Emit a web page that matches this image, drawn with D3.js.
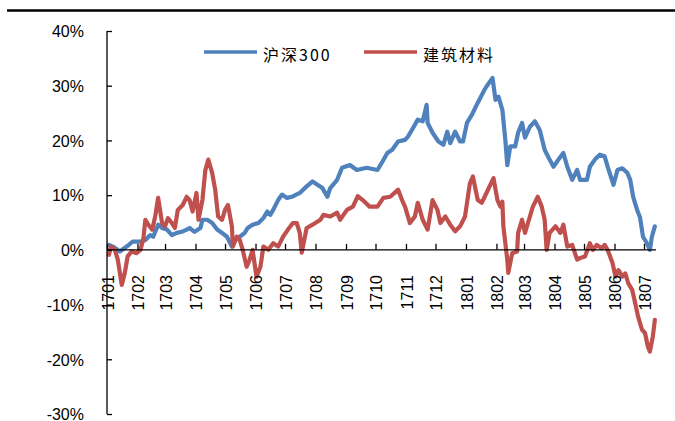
<!DOCTYPE html>
<html><head><meta charset="utf-8">
<script src="https://cdn.jsdelivr.net/npm/d3@7"></script>
<style>
html,body{margin:0;padding:0;background:#fff;}
svg{display:block;}
</style>
</head><body>
<svg id="chart" width="675" height="421"></svg>
<script>
// Series names
const seriesNames = ["沪深300", "建筑材料"];
// Calendar days since 2017-01-01 and cumulative return (%)
const hs300Days = [2,6,13,20,26,34,39,44,47,52,56,61,66,71,76,81,84,89,95,97,102,107,112,117,122,127,130,135,140,143,148,154,159,163,166,169,174,178,183,188,196,203,209,214,219,224,227,234,239,247,254,264,275,280,285,290,296,303,306,310,316,321,325,326,331,337,342,346,349,354,359,362,366,371,377,384,386,392,395,398,402,405,407,410,415,418,422,425,430,435,440,445,450,454,459,464,468,473,478,481,488,491,496,501,506,509,515,519,524,529,532,535,539,542,545,549,552,554,557];
const hs300Pct = [0.9,0.6,-0.3,0.6,1.5,1.5,1.8,2.7,2.4,4.6,4.0,3.7,2.7,3.1,3.3,3.7,4.0,3.3,4.0,5.5,5.5,4.9,3.7,3.1,2.4,0.6,1.8,2.4,3.1,4.0,4.6,4.9,5.8,7.0,6.4,7.3,9.1,10.1,9.5,9.7,10.4,11.6,12.5,11.9,11.3,9.7,11.3,12.8,15.0,15.5,14.6,15.0,14.6,16.1,17.7,18.3,19.8,20.1,20.7,21.9,23.8,23.5,26.5,23.2,21.4,19.8,19.2,21.6,19.5,21.6,19.8,19.8,23.2,24.7,26.9,29.3,29.9,31.4,27.4,28.0,25.6,20.1,15.5,18.9,18.9,21.4,23.2,20.5,22.5,23.5,21.9,18.3,16.5,15.2,16.5,17.7,15.2,12.8,14.6,12.8,12.8,15.2,16.5,17.4,17.1,15.2,11.9,14.6,14.9,14.1,12.8,9.7,7.3,5.9,2.4,1.2,0.0,2.4,4.3];
const jcclDays = [2,4,8,11,15,18,21,25,30,34,37,39,42,46,49,52,56,59,62,66,69,72,77,81,84,87,91,93,97,100,103,107,110,113,117,120,123,127,128,132,135,138,142,145,148,152,156,159,164,169,174,179,184,189,193,196,198,203,209,217,220,227,234,237,244,250,255,260,267,275,281,288,296,300,303,308,313,316,321,326,331,336,339,344,349,354,359,364,369,372,377,381,384,389,393,397,400,402,403,407,408,412,417,418,422,425,430,433,438,442,445,447,450,456,461,464,468,473,478,481,486,491,494,498,503,506,509,514,517,520,524,527,530,534,537,540,544,547,550,552,555,557];
const jcclPct = [-0.9,0.6,0.0,-1.8,-6.4,-4.3,-1.2,-0.3,-0.6,0.0,2.1,5.5,4.6,3.7,6.1,9.5,4.9,4.3,5.8,4.9,4.0,7.3,8.2,9.7,9.1,7.0,10.4,5.5,9.1,14.6,16.5,14.0,11.0,6.1,5.5,7.3,8.2,4.3,0.6,2.4,1.8,0.0,-3.1,-1.8,0.0,-4.9,-3.1,0.6,0.0,1.2,0.6,2.4,3.7,4.9,4.9,3.1,-0.5,4.0,4.6,5.5,6.4,6.1,6.8,5.5,7.3,7.9,9.8,9.1,7.9,7.9,9.5,9.7,11.0,9.1,7.9,4.9,6.1,8.6,5.5,3.7,9.1,7.3,4.9,6.1,4.6,3.4,4.3,6.1,12.2,13.4,9.1,8.6,9.7,11.6,13.1,9.1,7.9,8.8,4.3,-1.8,-4.2,-0.6,-0.3,3.1,5.5,3.1,6.1,7.9,9.7,7.9,5.5,0.0,3.1,4.3,3.1,4.6,0.6,0.9,-1.8,-1.5,-1.2,1.2,0.0,0.9,0.3,0.9,0.0,-2.4,-4.9,-3.7,-4.9,-4.3,-6.1,-7.3,-9.7,-12.2,-14.6,-15.2,-17.7,-18.6,-15.8,-12.8];
// Axis ticks
const yTicks = [-30,-20,-10,0,10,20,30,40];
const xTickLabels = ["1701","1702","1703","1704","1705","1706","1707","1708","1709","1710","1711","1712","1801","1802","1803","1804","1805","1806","1807"];

const colors = ["#4F81BD", "#C0504D"];
const base = Date.UTC(2017,0,1);
const toDate = d => new Date(base + d*86400000);
const tickDates = d3.utcMonths(new Date(Date.UTC(2017,0,1)), new Date(Date.UTC(2018,6,2)));

const svg = d3.select("#chart");
const x = d3.scaleUtc().domain([new Date(Date.UTC(2017,0,1)), new Date(Date.UTC(2018,6,1))]).range([107, 644]);
const y = d3.scaleLinear().domain([-30, 40]).range([414, 31]);

// top rule
svg.append("line").attr("x1",7).attr("x2",675).attr("y1",10.5).attr("y2",10.5)
  .attr("stroke","#000").attr("stroke-width",2.5);

const series = [
  {name: seriesNames[0], pts: hs300Days.map((d,i)=>({t:toDate(d), v:hs300Pct[i]}))},
  {name: seriesNames[1], pts: jcclDays.map((d,i)=>({t:toDate(d), v:jcclPct[i]}))}
];
const line = d3.line().x(d=>x(d.t)).y(d=>y(d.v));
series.forEach((s,i)=>{
  svg.append("path").attr("d", line(s.pts)).attr("fill","none")
    .attr("stroke", colors[i]).attr("stroke-width",4.2)
    .attr("stroke-linejoin","round").attr("stroke-linecap","round");
});

// Y axis
const yAxis = d3.axisLeft(y).tickValues(yTicks).tickSize(-5).tickPadding(0).tickFormat(d=>d+"%");
const gy = svg.append("g").attr("transform","translate(107,0)").call(yAxis);
gy.select(".domain").attr("stroke","#000").attr("stroke-width",1.3).attr("d","M0,31V414");
gy.selectAll(".tick line").attr("stroke","#000").attr("stroke-width",1.3);
gy.selectAll(".tick text").attr("x",-23).attr("dy","0.36em")
  .style("font-family","'Liberation Sans', Arial, sans-serif").style("font-size","16px").attr("fill","#000");

// X axis at 0%
const xAxis = d3.axisTop(x).tickValues(tickDates).tickSize(6).tickFormat("");
const gx = svg.append("g").attr("transform",`translate(0,${y(0)})`).call(xAxis);
gx.select(".domain").attr("d","M107,0H656").attr("stroke","#000").attr("stroke-width",1.3);
gx.selectAll(".tick line").attr("stroke","#000").attr("stroke-width",1.3);
svg.append("g").selectAll("text").data(tickDates).join("text")
  .attr("transform",(d,i)=>`translate(${x(d)+1},275) rotate(-90)`)
  .attr("text-anchor","end").attr("dy","0.36em")
  .style("font-family","'Liberation Sans', Arial, sans-serif").style("font-size","16px").attr("fill","#000")
  .text((d,i)=>xTickLabels[i]);

// Legend
const legX = [204, 364];
series.forEach((s,i)=>{
  const g = svg.append("g").attr("transform",`translate(${legX[i]},52)`);
  g.append("line").attr("x1",0).attr("x2",53).attr("y1",0).attr("y2",0)
    .attr("stroke",colors[i]).attr("stroke-width",3.6);
  g.append("text").attr("x",59).attr("y",3).attr("dy","0.35em")
    .style("font-family","'Noto Sans CJK SC', sans-serif").style("font-size","16px")
    .style("letter-spacing","2px").attr("fill","#000").text(s.name);
});
</script>
</body></html>
